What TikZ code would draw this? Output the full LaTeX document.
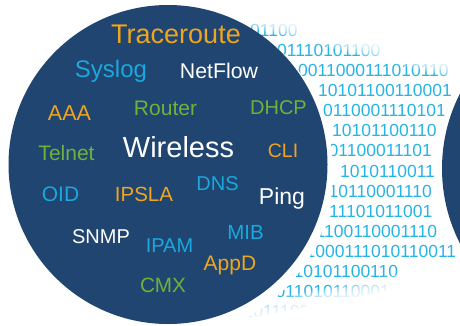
\documentclass[tikz,border=0pt]{standalone}
\usepackage{fontspec}
\setmainfont{Liberation Sans}

\definecolor{globeNavy}{RGB}{31,69,112}
\definecolor{termOrange}{RGB}{240,165,30}
\definecolor{termCyan}{RGB}{26,168,222}
\definecolor{termGreen}{RGB}{110,178,60}
\definecolor{bitBlue}{RGB}{38,180,230}

\tikzset{
  term/.style={font=\fontsize{#1}{#1}\selectfont, anchor=base, inner sep=0pt},
  bitrow/.style={font=\fontsize{17.5}{17.5}\selectfont, text=bitBlue, anchor=base west, inner sep=0pt},
}

\begin{document}
\begin{tikzpicture}[x=1pt,y=-1pt]
\useasboundingbox (0,0) rectangle (460,325);
\clip (0,0) rectangle (460,325);

% binary stream between the globes
\foreach \i/\x/\row in {1/250/01100, 2/277/01110101100, 3/298/0011000111010110,
    4/318/10101100110001, 5/323/0110001110101, 6/332/10101100110,
    7/328.5/01100011101, 8/340/1010110011, 9/328.5/10110001110,
    10/329/11101011001, 11/315.5/1100110001110, 12/305.5/1000111010110011,
    13/293.5/10101100110, 14/275.5/011010110001, 15/243.5/1011100}
  \node[bitrow] (bits\i) at (\x,{36.3+20.1*(\i-1)}) {\row};

% fade out at top and bottom
\fill[white] (230,8) -- (470,68) -- (470,-5) -- (230,-5) -- cycle;
\foreach \k in {1,...,15}
  \fill[white, opacity=0.14] (230,8+\k) -- (470,68+\k) -- (470,-5) -- (230,-5) -- cycle;
\fill[white] (230,322) -- (470,274) -- (470,330) -- (230,330) -- cycle;
\foreach \k in {1,...,15}
  \fill[white, opacity=0.14] (230,322-\k) -- (470,274-\k) -- (470,330) -- (230,330) -- cycle;

% globes
\fill[white] (167,172) circle[radius=166];
\fill[white] (607,168.5) circle[radius=171];
\fill[globeNavy] (168,164.5) circle[radius=159.5];
\fill[globeNavy] (607,168.5) circle[radius=165];

% terms
\node[term=27, text=termOrange] (traceroute) at (176,43) {Traceroute};
\node[term=24, text=termCyan] (syslog) at (111,77) {Syslog};
\node[term=21.3, text=white] (netflow) at (219,78) {NetFlow};
\node[term=21.5, text=termOrange] (aaa) at (69.5,120) {AAA};
\node[term=21, text=termGreen] (router) at (165.5,115) {Router};
\node[term=20, text=termGreen] (dhcp) at (278.5,114) {DHCP};
\node[term=21, text=termGreen] (telnet) at (66.5,160) {Telnet};
\node[term=29, text=white] (wireless) at (178.5,157) {Wireless};
\node[term=19.5, text=termOrange] (cli) at (283,157) {CLI};
\node[term=21, text=termCyan] (oid) at (60.5,201) {OID};
\node[term=20.5, text=termOrange] (ipsla) at (144,201) {IPSLA};
\node[term=20, text=termCyan] (dns) at (217.5,190) {DNS};
\node[term=23, text=white] (ping) at (282,204) {Ping};
\node[term=20, text=white] (snmp) at (101,243) {SNMP};
\node[term=20, text=termCyan] (ipam) at (169.5,252) {IPAM};
\node[term=20.5, text=termCyan] (mib) at (245.5,239) {MIB};
\node[term=21, text=termOrange] (appd) at (230,270) {AppD};
\node[term=20.7, text=termGreen] (cmx) at (163,292) {CMX};
\end{tikzpicture}
\end{document}
